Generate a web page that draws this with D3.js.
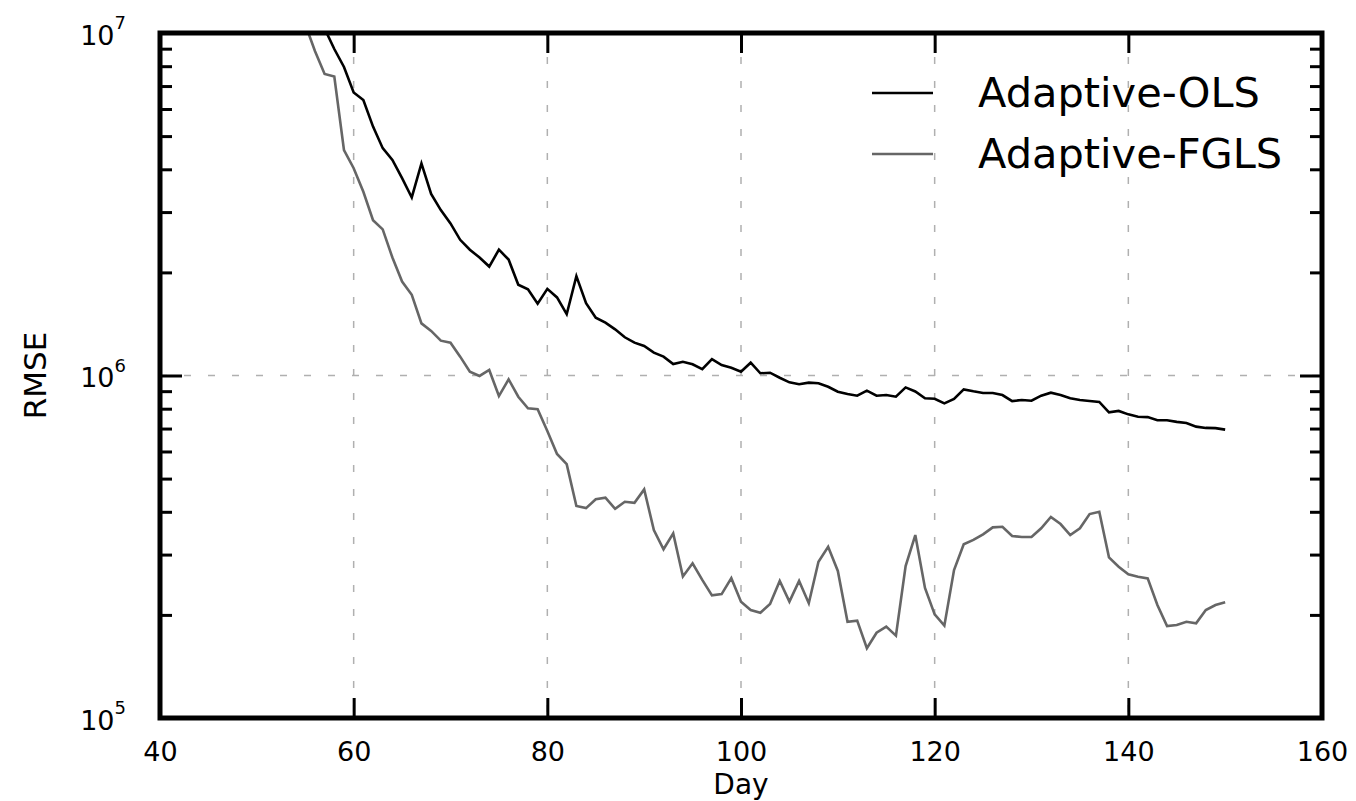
<!DOCTYPE html>
<html>
<head>
<meta charset="utf-8">
<script src="https://cdn.jsdelivr.net/npm/d3@7"></script>
<style>
  html, body { margin: 0; padding: 0; background: #fff; }
  svg { display: block; font-family: "DejaVu Sans", sans-serif; }
</style>
</head>
<body>
<svg id="chart" width="1356" height="801"></svg>
<script>
const days = [55,56,57,58,59,60,61,62,63,64,65,66,67,68,69,70,71,72,73,74,75,76,77,78,79,
  80,81,82,83,84,85,86,87,88,89,90,91,92,93,94,95,96,97,98,99,100,101,102,103,104,105,
  106,107,108,109,110,111,112,113,114,115,116,117,118,119,120,121,122,123,124,125,126,127,
  128,129,130,131,132,133,134,135,136,137,138,139,140,141,142,143,144,145,146,147,148,149,150];

const olsValues = [1.25e7,1.13e7,1.03e7,8.98e6,7.96e6,6.70e6,6.37e6,5.33e6,4.61e6,4.26e6,
  3.77e6,3.31e6,4.16e6,3.39e6,3.04e6,2.78e6,2.49e6,2.33e6,2.21e6,2.08e6,2.33e6,2.18e6,1.84e6,
  1.785e6,1.62e6,1.79e6,1.69e6,1.51e6,1.95e6,1.625e6,1.475e6,1.426e6,1.364e6,1.293e6,1.247e6,
  1.219e6,1.166e6,1.135e6,1.080e6,1.097e6,1.078e6,1.043e6,1.117e6,1.073e6,1.054e6,1.026e6,
  1.090e6,1.015e6,1.019e6,0.985e6,0.955e6,0.943e6,0.953e6,0.949e6,0.927e6,0.897e6,0.883e6,
  0.873e6,0.903e6,0.873e6,0.877e6,0.867e6,0.923e6,0.898e6,0.858e6,0.855e6,0.829e6,0.854e6,
  0.911e6,0.899e6,0.889e6,0.889e6,0.877e6,0.842e6,0.848e6,0.844e6,0.873e6,0.891e6,0.877e6,
  0.858e6,0.848e6,0.842e6,0.837e6,0.781e6,0.788e6,0.770e6,0.758e6,0.756e6,0.740e6,0.740e6,
  0.732e6,0.727e6,0.709e6,0.703e6,0.702e6,0.695e6];

const fglsValues = [1.06e7,8.86e6,7.59e6,7.46e6,4.55e6,4.03e6,3.44e6,2.84e6,2.67e6,2.21e6,
  1.88e6,1.72e6,1.42e6,1.35e6,1.264e6,1.247e6,1.135e6,1.026e6,0.997e6,1.038e6,0.871e6,0.975e6,
  0.867e6,0.802e6,0.797e6,0.689e6,0.590e6,0.551e6,0.416e6,0.410e6,0.435e6,0.440e6,0.408e6,
  0.428e6,0.425e6,0.465e6,0.354e6,0.311e6,0.346e6,0.259e6,0.283e6,0.253e6,0.228e6,0.230e6,
  0.256e6,0.2186e6,0.2067e6,0.2030e6,0.2152e6,0.2512e6,0.2186e6,0.2512e6,0.2163e6,0.286e6,
  0.3163e6,0.2687e6,0.191e6,0.1924e6,0.1598e6,0.1774e6,0.1848e6,0.1739e6,0.2778e6,0.342e6,
  0.2397e6,0.2006e6,0.186e6,0.2705e6,0.3215e6,0.331e6,0.3438e6,0.3603e6,0.3618e6,0.3399e6,
  0.3376e6,0.3376e6,0.3579e6,0.3862e6,0.3684e6,0.342e6,0.3579e6,0.394e6,0.4001e6,0.2945e6,
  0.2765e6,0.2628e6,0.2586e6,0.2557e6,0.2138e6,0.1856e6,0.1868e6,0.191e6,0.189e6,0.2067e6,
  0.2138e6,0.2177e6];

const seriesNames = ["Adaptive-OLS", "Adaptive-FGLS"];
const seriesColors = ["#000000", "#666666"];
const xTicks = [40, 60, 80, 100, 120, 140, 160];
const xGrid = [60, 80, 100, 120, 140];
const yMajorTicks = [1e5, 1e6, 1e7];
const yExponents = ["5", "6", "7"];
const yMinorTicks = [2e5,3e5,4e5,5e5,6e5,7e5,8e5,9e5,2e6,3e6,4e6,5e6,6e6,7e6,8e6,9e6];
const yGrid = [1e6];
const xLabel = "Day";
const yLabel = "RMSE";

const L = 160, R = 1322, T = 33, B = 718;
const svg = d3.select("#chart");
const x = d3.scaleLinear().domain([40, 160]).range([L, R]);
const y = d3.scaleLog().domain([1e5, 1e7]).range([B, T]);

// clip
svg.append("defs").append("clipPath").attr("id", "clip")
  .append("rect").attr("x", L).attr("y", T).attr("width", R - L).attr("height", B - T);

// grid
const grid = svg.append("g");
grid.selectAll(".vg").data(xGrid).join("line")
  .attr("x1", d => x(d)).attr("x2", d => x(d)).attr("y1", T).attr("y2", B)
  .attr("stroke", "#b0b0b0").attr("stroke-width", 1.5).attr("stroke-dasharray", "7,17");
grid.selectAll(".hg").data(yGrid).join("line")
  .attr("y1", d => y(d)).attr("y2", d => y(d)).attr("x1", L).attr("x2", R)
  .attr("stroke", "#b0b0b0").attr("stroke-width", 1.5).attr("stroke-dasharray", "7,17");

// lines
const seriesData = [olsValues, fglsValues];
const line = d3.line().x((d, i) => x(days[i])).y(d => y(d));
const lines = svg.append("g").attr("clip-path", "url(#clip)");
seriesData.forEach((vals, k) => {
  lines.append("path").datum(vals).attr("d", line)
    .attr("fill", "none").attr("stroke", seriesColors[k]).attr("stroke-width", 2.6)
    .attr("stroke-linejoin", "miter");
});

// axes (ticks inward)
function styleAxis(g) {
  g.select(".domain").remove();
  g.selectAll(".tick line").attr("stroke", "#000").attr("stroke-width", 3);
}
// bottom with labels
const xAxisB = svg.append("g").attr("transform", `translate(0,${B})`)
  .call(d3.axisBottom(x).tickValues(xTicks).tickSize(-20).tickPadding(24).tickFormat(d3.format("d")));
styleAxis(xAxisB);
xAxisB.selectAll("text").attr("font-size", 27).attr("font-family", "DejaVu Sans").attr("fill", "#000");
// top
const xAxisT = svg.append("g").attr("transform", `translate(0,${T})`)
  .call(d3.axisTop(x).tickValues(xTicks).tickSize(-20).tickFormat(""));
styleAxis(xAxisT);

// left major with labels
const yAxisL = svg.append("g").attr("transform", `translate(${L},0)`)
  .call(d3.axisLeft(y).tickValues(yMajorTicks).tickSize(-22).tickPadding(34).tickFormat(""));
styleAxis(yAxisL);
yAxisL.selectAll(".tick text").each(function(d, i) {
  const t = d3.select(this);
  t.text(null).attr("font-size", 27).attr("font-family", "DejaVu Sans").attr("fill", "#000")
    .attr("dy", "0.41em");
  t.append("tspan").text("10");
  t.append("tspan").attr("font-size", 18).attr("dy", "-0.85em").text(yExponents[i]);
});
const yAxisLm = svg.append("g").attr("transform", `translate(${L},0)`)
  .call(d3.axisLeft(y).tickValues(yMinorTicks).tickSize(-12).tickFormat(""));
styleAxis(yAxisLm);
// right
const yAxisR = svg.append("g").attr("transform", `translate(${R},0)`)
  .call(d3.axisRight(y).tickValues(yMajorTicks).tickSize(-22).tickFormat(""));
styleAxis(yAxisR);
const yAxisRm = svg.append("g").attr("transform", `translate(${R},0)`)
  .call(d3.axisRight(y).tickValues(yMinorTicks).tickSize(-12).tickFormat(""));
styleAxis(yAxisRm);

// frame
svg.append("rect").attr("x", L).attr("y", T).attr("width", R - L).attr("height", B - T)
  .attr("fill", "none").attr("stroke", "#000").attr("stroke-width", 5);

// axis titles
svg.append("text").attr("x", (L + R) / 2).attr("y", 794).attr("text-anchor", "middle")
  .attr("font-size", 28).text(xLabel);
svg.append("text").attr("transform", `translate(46,${(T + B) / 2}) rotate(-90)`)
  .attr("text-anchor", "middle").attr("font-size", 31).text(yLabel);

// legend
const legend = svg.append("g");
seriesNames.forEach((name, k) => {
  const ly = 93 + k * 61;
  legend.append("line").attr("x1", 872).attr("x2", 933).attr("y1", ly).attr("y2", ly)
    .attr("stroke", seriesColors[k]).attr("stroke-width", 2.6);
  legend.append("text").attr("x", 978).attr("y", ly + 14).attr("font-size", 41.5)
    .attr("fill", "#000").text(name);
});
</script>
</body>
</html>
